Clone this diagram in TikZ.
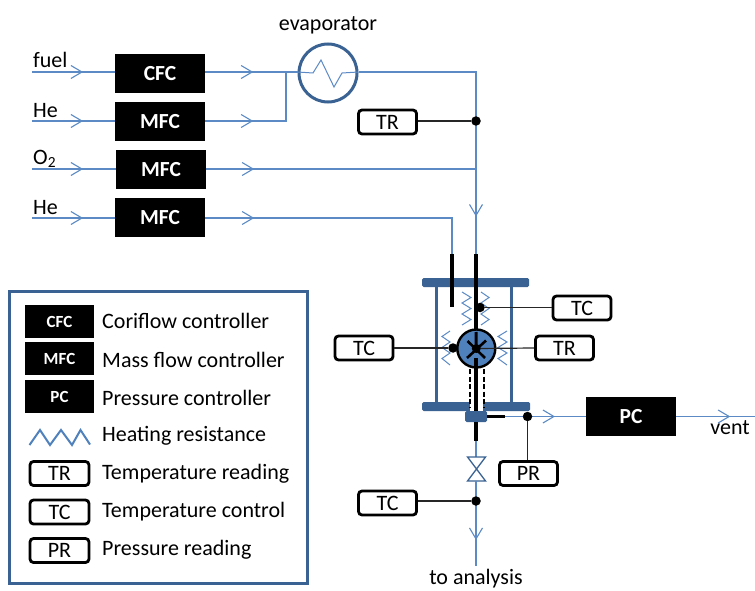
\documentclass[tikz,border=0pt]{standalone}
\usepackage{fontspec}
\setmainfont{Carlito}
\usetikzlibrary{arrows.meta,decorations.markings}
\definecolor{flowblue}{HTML}{5B8AC5}
\definecolor{darkblue}{HTML}{3A6293}
\definecolor{fillblue}{HTML}{4F81BD}
\newcommand{\lbl}{\fontsize{22}{26}\selectfont}
\newcommand{\blbl}{\fontsize{21.5}{25}\selectfont\bfseries}
\newcommand{\sbl}{\fontsize{17}{20}\selectfont\bfseries}
\tikzset{
  flow/.style={draw=flowblue,line width=1.2pt},
  chev/.style={postaction={decorate,decoration={markings,mark=at position #1 with {\arrow[flowblue,line width=1.1pt]{Straight Barb[length=11pt,width=13pt]}}}}},
  ctrl/.style={fill=black,text=white,minimum width=90pt,minimum height=39pt,inner sep=0pt,font=\blbl},
  lctrl/.style={fill=black,text=white,minimum width=69pt,minimum height=33pt,inner sep=0pt,font=\sbl},
  readbox/.style={draw=black,line width=2.8pt,rounded corners=3.5pt,fill=white,minimum width=58pt,minimum height=24pt,inner sep=0pt,font=\lbl},
  lreadbox/.style={readbox,minimum width=59pt,minimum height=24pt},
  dotn/.style={circle,fill=black,minimum size=9.5pt,inner sep=0pt},
  sig/.style={draw=black!85,line width=1.2pt},
  thick black/.style={draw=black,line width=3.4pt},
  wall/.style={draw=darkblue,line width=2.8pt},
  flange/.style={fill=darkblue,rounded corners=1.5pt},
  coil/.style={draw=flowblue,line width=1pt,line join=miter},
  txt/.style={inner sep=0pt,font=\lbl},
  ltxt/.style={inner sep=0pt,font=\lbl,anchor=west},
}
\begin{document}
\begin{tikzpicture}[x=1pt,y=-1pt]
\useasboundingbox (0,0) rectangle (755,591);
% controllers
\node[ctrl] (cfc) at (160,73.5) {CFC};
\node[ctrl] (mfca) at (160,121.5) {MFC};
\node[ctrl] (mfcb) at (161,169.5) {MFC};
\node[ctrl] (mfcc) at (160,217.5) {MFC};
\node[ctrl] (pc) at (631,416.5) {PC};
% free ends
\coordinate (infuel) at (32,72);
\coordinate (inhea) at (32,121);
\coordinate (inox) at (32,169);
\coordinate (inheb) at (32,218);
\coordinate (merge) at (286,72);
\coordinate (mergeb) at (286,121);
\coordinate (corner) at (476,72);
\coordinate (joinb) at (476,169);
\coordinate (cornerc) at (452,218);
\coordinate (portl) at (452,254);
\coordinate (portr) at (476,254);
\coordinate (ventend) at (755,416.5);
\coordinate (analysis) at (476,566);
% evaporator
\node[circle,draw=darkblue,line width=3pt,minimum size=58pt,inner sep=0pt,fill=white] (evap) at (328,73) {};
\node[txt] (evaptxt) at (328,25) {evaporator};
% input lines
\draw[flow,chev=51pt] (infuel) -- (infuel-|cfc.west);
\draw[flow,chev=51pt] (inhea) -- (inhea-|mfca.west);
\draw[flow,chev=51pt] (inox) -- (inox-|mfcb.west);
\draw[flow,chev=51pt] (inheb) -- (inheb-|mfcc.west);
\draw[flow,chev=48pt] (cfc.east|-merge) -- (evap.west|-merge);
\draw[flow,chev=48pt] (mfca.east|-mergeb) -- (mergeb) -- (merge);
\draw[flow,chev=48pt] (mfcb.east|-joinb) -- (joinb);
\draw[flow,chev=49pt] (mfcc.east|-cornerc) -- (cornerc) -- (portl);
\draw[flow,chev=262pt] (evap.east|-corner) -- (corner) -- (portr);
% evaporator coil
\draw[flow,line width=1pt] (evap.west|-merge) -- (313,73) -- (321,60) -- (334,87) -- (342,73) -- (evap.east|-corner);
\node[txt,anchor=west] (fueltxt) at (33,60) {fuel};
\node[txt,anchor=west] (hetxta) at (33,111) {He};
\node[txt,anchor=west] (oxtxt) at (33,159) {O\textsubscript{2}};
\node[txt,anchor=west] (hetxtb) at (33,208) {He};
% reactor
\draw[wall] (436.5,285) -- (436.5,404);
\draw[wall] (511.5,285) -- (511.5,404);
\fill[flange] (422,278) rectangle (529,287);
\fill[flange] (422,402) rectangle (530,411);
\fill[white] (470,401) rectangle (483,411);
\fill[flange] (465,411) rectangle (487,422);
% coils
\draw[coil] (462,292) -- (471,297.5) -- (462,303) -- (471,308.5) -- (462,314) -- (471,319.5) -- (462,325);
\draw[coil] (481,292) -- (489,297.5) -- (481,303) -- (489,308.5) -- (481,314) -- (489,319.5) -- (481,325);
\draw[coil] (450,331) -- (442,336.5) -- (450,342) -- (442,347.5) -- (450,353) -- (442,358.5) -- (450,365);
\draw[coil] (507,331) -- (498,336.5) -- (507,342) -- (498,347.5) -- (507,353) -- (498,358.5) -- (507,365);
% tubes
\draw[thick black] (portl) -- (452,307);
\draw[thick black] (portr) -- (476,335);
\node[circle,draw=black,line width=2.4pt,fill=fillblue,minimum size=38pt,inner sep=0pt] (reactor) at (476.3,348.5) {};
\draw[thick black,line width=3pt] (reactor.center) -- (476,332);
\draw[thick black,line width=2.6pt] (467.5,341) -- (485,358);
\draw[thick black,line width=2.6pt] (486,340.5) -- (467,358);
\node[circle,fill=black,minimum size=9pt,inner sep=0pt] (starc) at (reactor.center) {};
\draw[thick black] (476,358) -- (476,411);
\draw[draw=black,line width=2.4pt,dash pattern=on 5pt off 2.5pt] (470,369) -- (470,408);
\draw[draw=black,line width=2.4pt,dash pattern=on 5pt off 2.5pt] (484,369) -- (484,408);
% outlet
\coordinate (blockr) at (487,416.5);
\coordinate (stubr) at (505,416.5);
\coordinate (blockb) at (476,422);
\coordinate (stubb) at (476,441);
\draw[flow,chev=50pt] (stubr) -- (pc.west);
\draw[thick black] (blockr) -- (stubr);
\draw[flow,chev=54pt] (pc.east) -- (ventend);
\draw[flow] (stubb) -- (476,457);
\draw[thick black] (blockb) -- (stubb);
\draw[draw=darkblue,line width=1.3pt,fill=white,line join=miter] (467.5,457) -- (485.5,457) -- (467.5,481) -- (485.5,481) -- cycle;
\draw[flow,chev=59pt] (476,481) -- (analysis);
% instruments
\node[readbox] (trtop) at (387.5,122) {TR};
\node[dotn] (dtr) at (476,121) {};
\draw[sig] (trtop.east|-dtr) -- (dtr);
\node[readbox] (tcr) at (582,308) {TC};
\node[dotn] (dtc) at (480,307.5) {};
\draw[sig] (tcr.west|-dtc) -- (dtc);
\node[readbox] (tcl) at (364,348) {TC};
\node[dotn] (dtcl) at (453,348) {};
\draw[sig] (tcl.east) -- (dtcl);
\node[readbox] (trr) at (564.5,348) {TR};
\draw[sig] (trr.west) -- (starc);
\node[dotn] (dpr) at (527.5,416.5) {};
\node[readbox] (pr) at (528.5,473.5) {PR};
\draw[sig] (dpr) -- (dpr|-pr.north);
\node[dotn] (dtcb) at (476,501) {};
\node[readbox] (tcb) at (387.5,503) {TC};
\draw[sig] (tcb.east|-dtcb) -- (dtcb);
\node[txt] (venttxt) at (730,428) {vent};
\node[txt] (analysistxt) at (476,578.5) {to analysis};
% legend
\node[draw=darkblue,line width=3pt,minimum width=298pt,minimum height=292pt,inner sep=0pt,fill=white] (legend) at (158.8,437) {};
\node[lctrl] (lcfc) at (59.5,321.5) {CFC};
\node[lctrl] (lmfc) at (59.5,358.5) {MFC};
\node[lctrl] (lpc) at (59.5,396.5) {PC};
\draw[draw=fillblue,line width=2pt,line join=miter] (29.5,445) -- (40,430) -- (50,445) -- (61,430) -- (72,445) -- (80.5,430) -- (90,444.5);
\node[lreadbox] (ltr) at (59.5,473.5) {TR};
\node[lreadbox] (ltc) at (59.5,512) {TC};
\node[lreadbox] (lpr) at (59.5,550.5) {PR};
\node[ltxt] (t1) at (102,321) {Coriflow controller};
\node[ltxt] (t2) at (102,360) {Mass flow controller};
\node[ltxt] (t3) at (102,398) {Pressure controller};
\node[ltxt] (t4) at (102,436) {Heating resistance};
\node[ltxt] (t5) at (102,474) {Temperature reading};
\node[ltxt] (t6) at (102,512) {Temperature control};
\node[ltxt] (t7) at (102,550) {Pressure reading};
\end{tikzpicture}
\end{document}
